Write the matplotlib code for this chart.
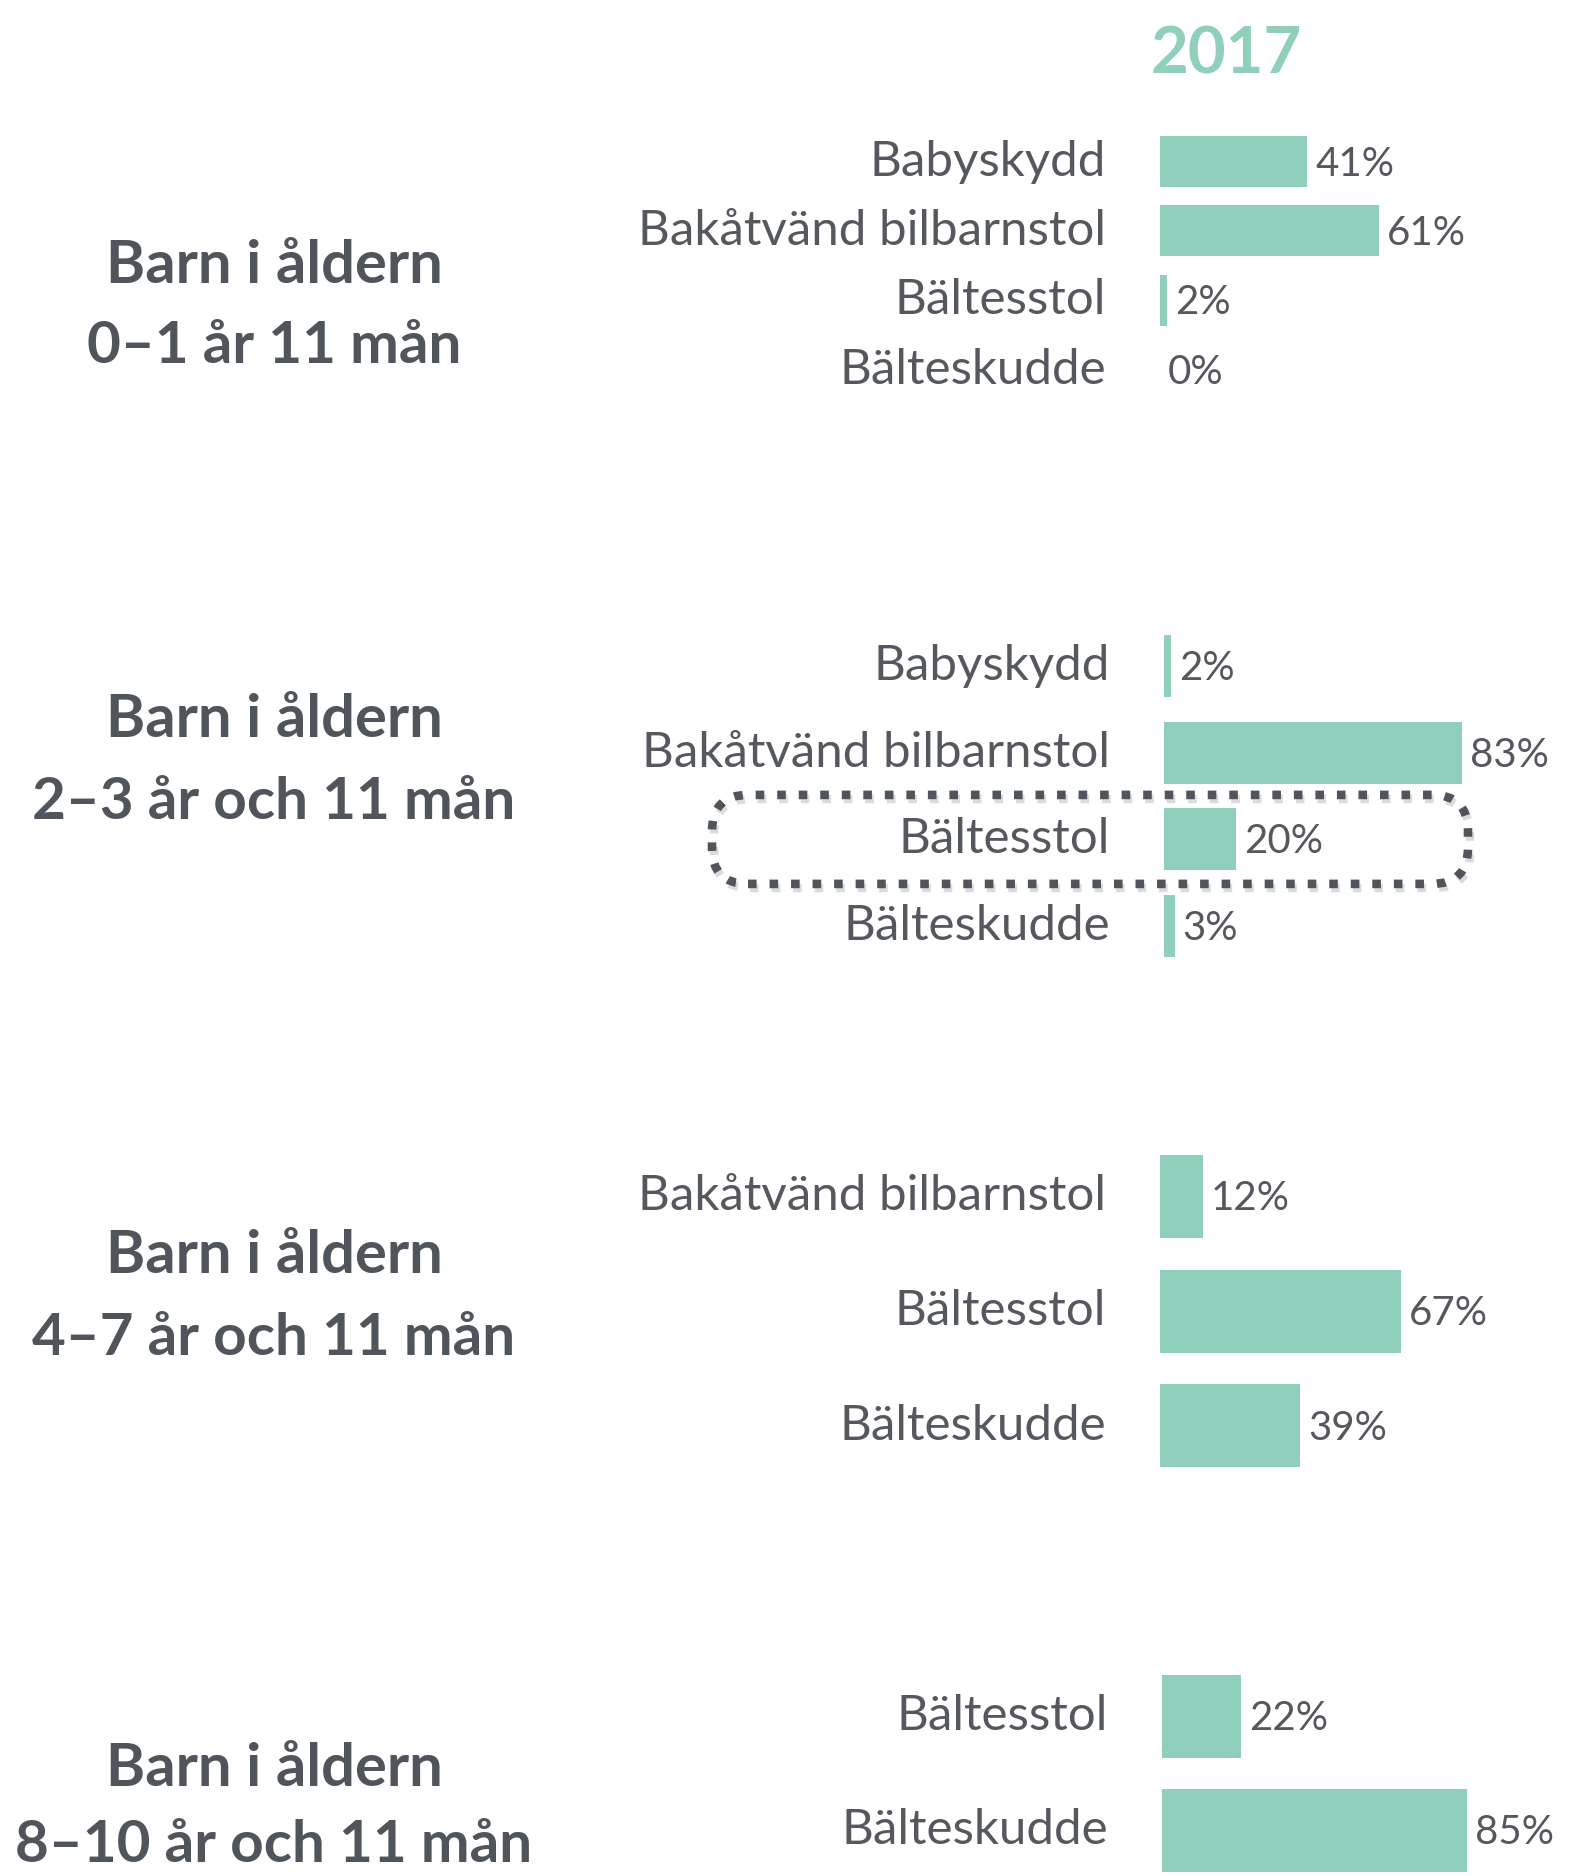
import matplotlib
matplotlib.use("Agg")
import matplotlib.pyplot as plt
from matplotlib.transforms import offset_copy, IdentityTransform
from matplotlib.patches import FancyBboxPatch

# ---------------- data ----------------
year_title = "2017"
group_titles = [
    ("Barn i åldern", "0–1 år 11 mån"),
    ("Barn i åldern", "2–3 år och 11 mån"),
    ("Barn i åldern", "4–7 år och 11 mån"),
    ("Barn i åldern", "8–10 år och 11 mån"),
]
g1_cats = ["Babyskydd", "Bakåtvänd bilbarnstol", "Bältesstol", "Bälteskudde"]
g1_vals = [41, 61, 2, 0]
g2_cats = ["Babyskydd", "Bakåtvänd bilbarnstol", "Bältesstol", "Bälteskudde"]
g2_vals = [2, 83, 20, 3]
g3_cats = ["Bakåtvänd bilbarnstol", "Bältesstol", "Bälteskudde"]
g3_vals = [12, 67, 39]
g4_cats = ["Bältesstol", "Bälteskudde"]
g4_vals = [22, 85]
highlight = (1, "Bältesstol")  # group index, category

# ---------------- style / layout ----------------
W, H = 1573, 1876
TEAL = "#8FCFBB"
TXT = "#55585D"
DARK = "#50555C"
FONT = ["Lato", "DejaVu Sans"]
PX_PER_PCT = 3.59

# (bar x0 px, first row centre px, row pitch px, bar height px)
layouts = [
    (1160, 161.5, 69.5, 51),
    (1164, 666.0, 86.7, 62),
    (1160, 1196.5, 114.5, 83),
    (1162, 1716.0, 114.0, 83),
]
# heading baselines (line1, line2) in px from top
heading_baselines = [(283, 363), (737, 819), (1273, 1355), (1786, 1862)]
heading_cx = 274

plt.rcParams["font.family"] = FONT
fig = plt.figure(figsize=(W / 100, H / 100), dpi=100)
fig.patch.set_facecolor("white")

groups = [(g1_cats, g1_vals), (g2_cats, g2_vals), (g3_cats, g3_vals), (g4_cats, g4_vals)]
axes = []
for gi, ((cats, vals), (x0, c0, pitch, bh)) in enumerate(zip(groups, layouts)):
    n = len(cats)
    top = c0 - pitch / 2
    bottom = c0 + (n - 1) * pitch + pitch / 2
    width = 100 * PX_PER_PCT
    ax = fig.add_axes([x0 / W, 1 - bottom / H, width / W, (bottom - top) / H])
    ax.set_xlim(0, 100)
    ax.set_ylim(n - 0.5, -0.5)
    ax.axis("off")
    ypos = list(range(n))
    ax.barh(ypos, vals, height=bh / pitch, color=TEAL, edgecolor="none")
    lab_tr = offset_copy(ax.transData, fig=fig, x=-54, y=-14, units="dots")
    val_tr = offset_copy(ax.transData, fig=fig, x=8, y=-14, units="dots")
    for y, c, v in zip(ypos, cats, vals):
        ax.text(0, y, c, transform=lab_tr, ha="right", va="baseline",
                fontsize=35.5, color=TXT, clip_on=False)
        ax.text(v, y, f"{v}%", transform=val_tr, ha="left", va="baseline",
                fontsize=29, color=TXT, clip_on=False)
    axes.append(ax)

    l1, l2 = group_titles[gi]
    b1, b2 = heading_baselines[gi]
    fig.text(heading_cx / W, 1 - b1 / H, l1, ha="center", va="baseline",
             fontsize=43, fontweight="bold", color=DARK)
    fig.text(heading_cx / W, 1 - b2 / H, l2, ha="center", va="baseline",
             fontsize=42, fontweight="bold", color=DARK)

# year title
fig.text(1226 / W, 1 - 73 / H, year_title, ha="center", va="baseline",
         fontsize=47, fontweight="bold", color=TEAL)

# highlight dotted rounded box around the chosen row
hg, hcat = highlight
hax = axes[hg]
hrow = groups[hg][0].index(hcat)
x0, c0, pitch, bh = layouts[hg]
_, yc = hax.transData.transform((0, hrow))
xl = x0 - 452
xr = x0 + 304
half_h = 44.5
for dx, dy, col, al, z in [(2, -4, "#9a9a9a", 0.35, 4), (0, 0, DARK, 1.0, 5)]:
    box = FancyBboxPatch((xl + dx, yc - half_h + dy), xr - xl, 2 * half_h,
                         boxstyle="round,pad=0,rounding_size=36",
                         transform=IdentityTransform(), fill=False,
                         edgecolor=col, alpha=al, linewidth=6.2,
                         linestyle=(0, (1.0, 1.5)), zorder=z)
    box.set_capstyle("butt")
    fig.add_artist(box)

fig.savefig("out.png", dpi=100, facecolor="white")
